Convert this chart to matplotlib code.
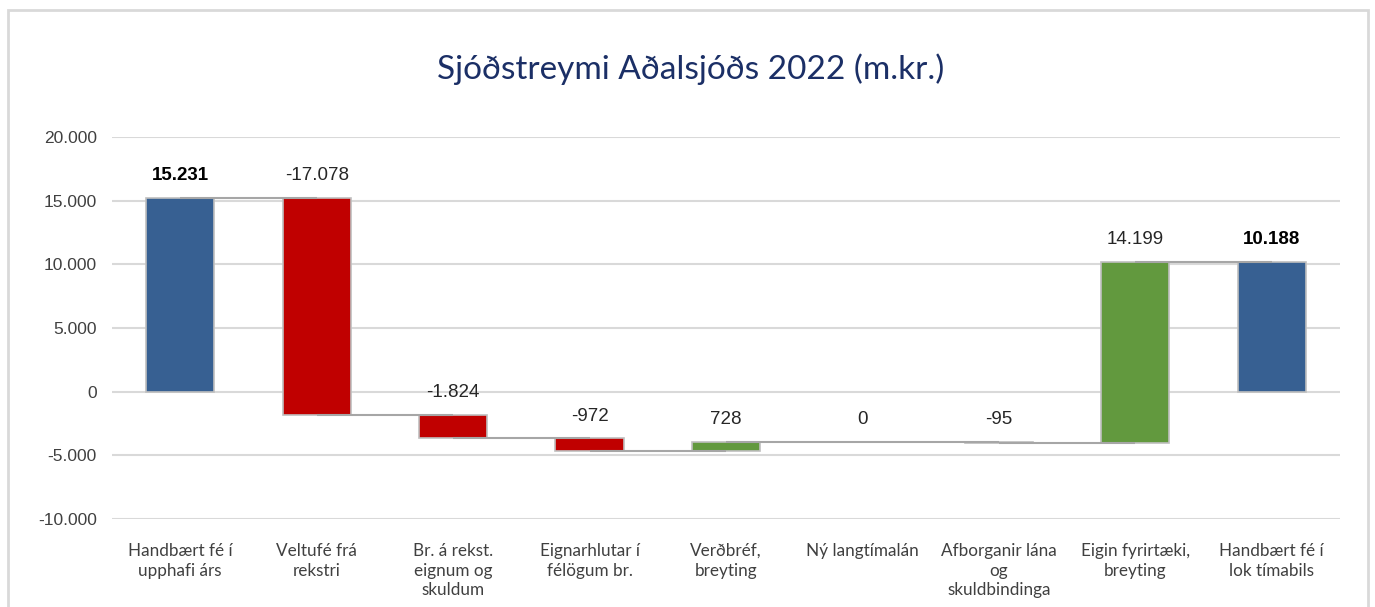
import matplotlib
matplotlib.use("Agg")
import matplotlib.pyplot as plt
from matplotlib.patches import Rectangle
from matplotlib.ticker import FuncFormatter, MultipleLocator

categories = ["Handbært fé í\nupphafi árs", "Veltufé frá\nrekstri", "Br. á rekst.\neignum og\nskuldum",
              "Eignarhlutar í\nfélögum br.", "Verðbréf,\nbreyting", "Ný langtímalán",
              "Afborganir lána\nog\nskuldbindinga", "Eigin fyrirtæki,\nbreyting", "Handbært fé í\nlok tímabils"]
values = [15231, -17078, -1824, -972, 728, 0, -95, 14199, 10188]
is_total = [True, False, False, False, False, False, False, False, True]
title = "Sjóðstreymi Aðalsjóðs 2022 (m.kr.)"

BLUE = "#376092"
RED = "#C00000"
GREEN = "#62993E"

def fmt(v):
    s = f"{abs(int(round(v))):,}".replace(",", ".")
    return ("-" if v < 0 else "") + s

fig = plt.figure(figsize=(13.75, 6.07), dpi=100)
fig.patch.set_facecolor("white")
# border
fig.add_artist(Rectangle((8/1375, -0.05), (1368-8)/1375, 1 - 10/607 + 0.05,
                         transform=fig.transFigure, fill=False, edgecolor="#D9D9D9", lw=2))

ax = fig.add_axes([112/1375, 1-519/607, (1340-112)/1375, (519-137)/607])
ax.set_xlim(-0.5, len(categories)-0.5)
ax.set_ylim(-10000, 20000)
ax.yaxis.set_major_locator(MultipleLocator(5000))
ax.yaxis.set_major_formatter(FuncFormatter(lambda v, p: fmt(v)))
for s in ax.spines.values():
    s.set_visible(False)
ax.grid(axis="y", color="#D9D9D9", lw=1.5, zorder=0)
ax.set_axisbelow(True)
ax.tick_params(axis="both", length=0)
ax.tick_params(axis="y", pad=11, labelsize=12.5, labelcolor="#404040")
ax.set_xticks(range(len(categories)))
ax.set_xticklabels(categories, fontsize=12.3, color="#404040", family=["Lato", "DejaVu Sans"], linespacing=1.3)
ax.tick_params(axis="x", pad=17)
for lbl in ax.get_yticklabels():
    lbl.set_family(["Liberation Sans"])

level = 0
ends = []
w = 0.5
for i, (v, tot) in enumerate(zip(values, is_total)):
    if tot:
        bottom, height = 0, v
        color = BLUE
        end = v
    else:
        bottom, height = level, v
        color = RED if v < 0 else GREEN
        end = level + v
    ax.bar(i, height, bottom=bottom, width=w, color=color, edgecolor="#BFBFBF", lw=1.2, zorder=2)
    top = max(bottom, bottom + height)
    ax.annotate(fmt(v), (i, top), xytext=(0, 10), textcoords="offset points", ha="center", va="bottom",
                fontsize=13.5, color="#262626" if not tot else "#000000",
                fontweight="bold" if tot else "normal", family=["Liberation Sans"])
    ends.append(end)
    level = end

for i in range(len(values)-1):
    ax.plot([i, i+1], [ends[i], ends[i]], color="#A6A6A6", lw=1.5, zorder=3, solid_capstyle="butt")

fig.text(691/1375, 1-69/607, title, ha="center", va="center", fontsize=24, color="#1B2F66",
         family=["Lato", "DejaVu Sans"])

fig.savefig("out.png", dpi=100)
